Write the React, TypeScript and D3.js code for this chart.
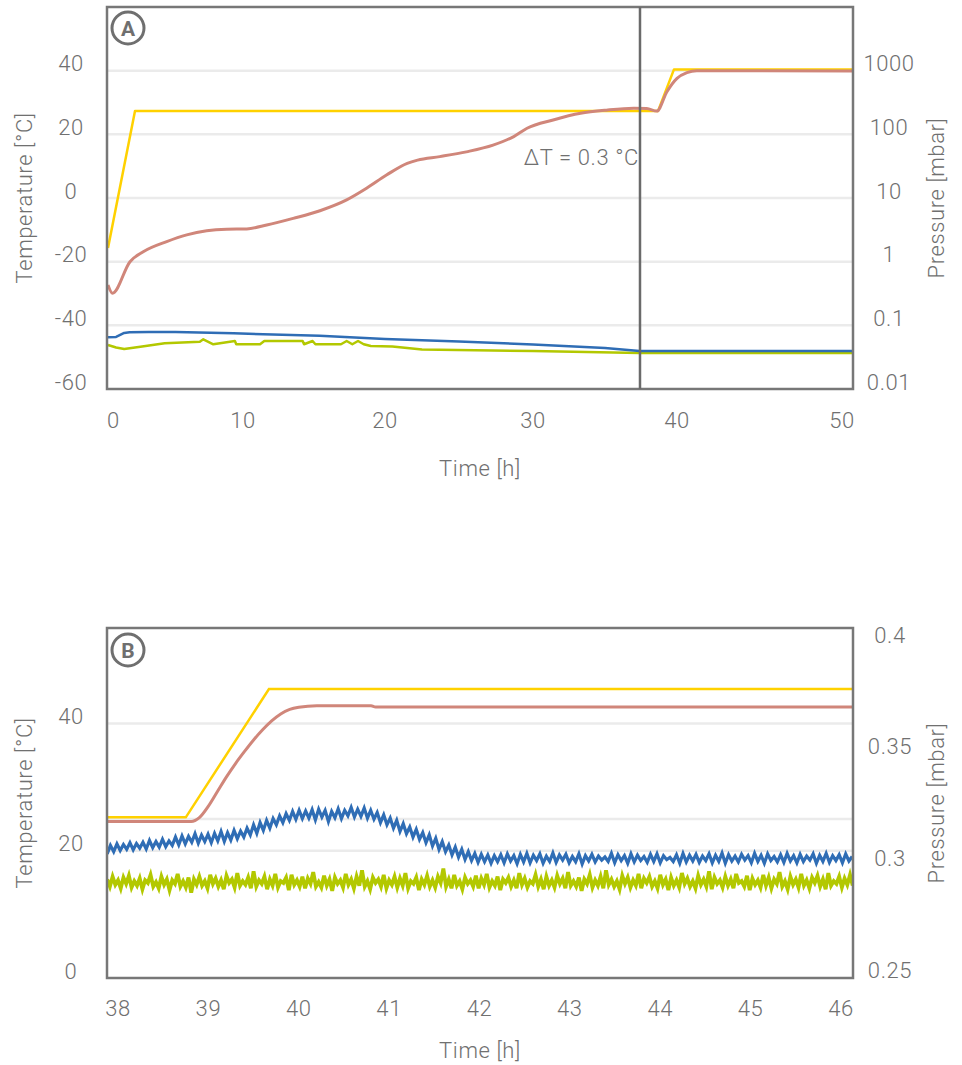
import React from 'react';
import * as d3 from 'd3';

// ---------- Panel A data ----------
const A_X_TICKS = [0, 10, 20, 30, 40, 50];
const A_TEMP_TICKS = [-60, -40, -20, 0, 20, 40];
const A_TEMP_GRID = [-40, -20, 0, 20, 40];
const A_PRESS_TICKS = [0.01, 0.1, 1, 10, 100, 1000];
const A_EVENT_TIME = 37.43;
const A_ANNOT = 'ΔT = 0.3 °C';

// [time h, temperature °C]
const aShelf: [number, number][] = [
  [0, -15.7], [2.0, 27.3], [38.68, 27.3], [39.79, 40.4], [50.67, 40.4],
];
const aProduct: [number, number][] = [
  [0, -27.3], [0.33, -29.9], [1.63, -20.0], [2.61, -16.9], [4.35, -13.7], [5.83, -11.6],
  [7.31, -10.3], [8.79, -9.8], [10.26, -9.7], [11.67, -8.5], [13.54, -6.4], [15.42, -4.0],
  [17.3, -0.6], [18.7, 3.05], [20.1, 7.2], [21.5, 10.9], [22.2, 11.9], [23.7, 13.0],
  [25.5, 14.5], [27.3, 16.6], [28.7, 19.3], [29.6, 21.9], [31.4, 24.5], [33.3, 26.6],
  [35.1, 27.6], [37.0, 28.2], [37.9, 28.1], [38.6, 27.3], [39.3, 33.4], [40.0, 37.6],
  [40.6, 39.4], [41.2, 40.0], [50.67, 39.9],
];
// [time h, pressure mbar]
const aPirani: [number, number][] = [
  [0, 0.0648], [0.6, 0.0656], [1.2, 0.0758], [1.6, 0.0777], [3, 0.0785], [5, 0.0785],
  [9.3, 0.0749], [15.4, 0.0687], [20, 0.061], [25, 0.0557], [30, 0.05], [35, 0.0441],
  [37.4, 0.0395], [50.67, 0.0395],
];
const aCapacitance: [number, number][] = [
  [0, 0.0491], [0.6, 0.0449], [1.2, 0.0425], [2.4, 0.0462], [4.2, 0.0522], [6.8, 0.0553],
  [7.06, 0.0604], [7.8, 0.0504], [9.4, 0.0567], [9.5, 0.0504], [11.2, 0.0504], [11.5, 0.0567],
  [14.2, 0.0567], [14.3, 0.0504], [14.9, 0.0567], [15.1, 0.0504], [16.9, 0.0504], [17.3, 0.0567],
  [17.7, 0.0504], [18.1, 0.0567], [18.5, 0.0504], [19.0, 0.0473], [20.5, 0.0465], [22.5, 0.0417],
  [30, 0.0395], [37.4, 0.0368], [50.67, 0.0368],
];

// ---------- Panel B data ----------
const B_X_TICKS = [38, 39, 40, 41, 42, 43, 44, 45, 46];
const B_TEMP_TICKS = [0, 20, 40];
const B_TEMP_GRID = [20, 25, 40];
const B_PRESS_TICKS = [0.25, 0.3, 0.35, 0.4];
const B_START = 37.88;
const B_PIRANI_STEP = 0.036;
const B_CAP_STEP = 0.03;

const bShelf: [number, number][] = [
  [37.878, 25.25], [38.75, 25.25], [39.67, 45.4], [46.133, 45.4],
];
const bProduct: [number, number][] = [
  [37.878, 24.6], [38.81, 24.6], [38.9, 25.2], [39.0, 27.0], [39.1, 29.3], [39.2, 31.6],
  [39.3, 33.7], [39.4, 35.6], [39.5, 37.4], [39.6, 39.0], [39.7, 40.4], [39.8, 41.5],
  [39.9, 42.2], [40.0, 42.55], [40.2, 42.8], [40.8, 42.8], [40.85, 42.6], [46.133, 42.6],
];
// pressure in 1e-4 mbar
const bPirani = [
  3020, 3058, 3030, 3065, 3035, 3062, 3040, 3070, 3038, 3066,
  3045, 3072, 3042, 3080, 3048, 3075, 3050, 3085, 3052, 3078,
  3058, 3095, 3060, 3100, 3065, 3098, 3072, 3110, 3068, 3104,
  3075, 3108, 3070, 3112, 3078, 3120, 3076, 3115, 3082, 3125,
  3088, 3122, 3095, 3135, 3105, 3150, 3112, 3160, 3125, 3170,
  3135, 3178, 3150, 3190, 3160, 3200, 3170, 3210, 3175, 3215,
  3178, 3212, 3180, 3218, 3172, 3220, 3185, 3215, 3165, 3210,
  3182, 3222, 3178, 3215, 3190, 3228, 3185, 3220, 3188, 3225,
  3180, 3215, 3175, 3205, 3160, 3195, 3150, 3180, 3135, 3170,
  3120, 3155, 3110, 3140, 3095, 3130, 3085, 3115, 3070, 3105,
  3055, 3090, 3040, 3075, 3030, 3060, 3015, 3050, 3005, 3040,
  2995, 3030, 2990, 3022, 2982, 3018, 2985, 3015, 2978, 3012,
  2985, 3016, 2980, 3020, 2988, 3012, 2976, 3018, 2984, 3022,
  2980, 3014, 2990, 3020, 2978, 3010, 2986, 3024, 2982, 3015,
  2992, 3018, 2980, 3008, 2985, 3020, 2975, 3012, 2988, 3018,
  2984, 3010, 2992, 3006, 2986, 3022, 2980, 3016, 2990, 3012,
  2978, 3020, 2984, 3014, 2990, 3008, 2982, 3018, 2986, 3020,
  2980, 3012, 2994, 3004, 2986, 3016, 2978, 3022, 2984, 3014,
  2988, 3018, 2982, 3010, 2990, 3020, 2980, 3014, 2986, 3024,
  2978, 3016, 2988, 3010, 2984, 3018, 2992, 3012, 2980, 3022,
  2986, 3014, 2978, 3020, 2990, 3008, 2984, 3016, 2982, 3022,
  2988, 3012, 2980, 3018, 2986, 3010, 2992, 3020, 2978, 3014,
  2986, 3022, 2982, 3012, 2990, 3016, 2980, 3020, 2988, 3008,
];
const bCapacitance = [
  2906, 2874, 2918, 2882, 2902, 2866, 2914, 2886, 2922, 2870, 2898, 2878,
  2910, 2862, 2902, 2890, 2926, 2874, 2894, 2866, 2918, 2882, 2906, 2858,
  2902, 2886, 2930, 2874, 2898, 2870, 2914, 2846, 2906, 2882, 2918, 2878,
  2898, 2866, 2926, 2886, 2910, 2874, 2902, 2862, 2922, 2890, 2906, 2870,
  2934, 2878, 2898, 2882, 2914, 2866, 2942, 2874, 2902, 2886, 2918, 2862,
  2906, 2878, 2930, 2870, 2898, 2890, 2914, 2858, 2926, 2882, 2902, 2874,
  2918, 2866, 2910, 2886, 2938, 2874, 2894, 2870, 2922, 2878, 2906, 2854,
  2914, 2886, 2902, 2870, 2930, 2882, 2906, 2866, 2918, 2878, 2946, 2874,
  2898, 2862, 2914, 2890, 2906, 2874, 2926, 2866, 2902, 2882, 2918, 2870,
  2910, 2878, 2934, 2866, 2898, 2886, 2914, 2858, 2906, 2882, 2922, 2874,
  2902, 2870, 2918, 2890, 2954, 2874, 2906, 2866, 2926, 2878, 2898, 2862,
  2914, 2886, 2902, 2874, 2922, 2866, 2910, 2882, 2930, 2870, 2898, 2878,
  2918, 2858, 2906, 2890, 2914, 2874, 2902, 2866, 2934, 2882, 2910, 2870,
  2898, 2886, 2926, 2874, 2906, 2862, 2918, 2878, 2902, 2870, 2922, 2886,
  2910, 2866, 2938, 2878, 2898, 2874, 2914, 2854, 2906, 2886, 2926, 2870,
  2902, 2878, 2918, 2866, 2946, 2882, 2906, 2874, 2898, 2862, 2922, 2886,
  2914, 2870, 2902, 2878, 2930, 2866, 2910, 2890, 2918, 2874, 2898, 2866,
  2926, 2882, 2906, 2858, 2914, 2878, 2902, 2870, 2934, 2886, 2910, 2874,
  2898, 2866, 2922, 2882, 2906, 2874, 2942, 2862, 2914, 2886, 2902, 2870,
  2918, 2878, 2906, 2866, 2930, 2890, 2898, 2874, 2922, 2858, 2910, 2882,
  2902, 2870, 2926, 2878, 2914, 2866, 2906, 2886, 2938, 2874, 2898, 2862,
  2918, 2882, 2906, 2870, 2930, 2878, 2902, 2866, 2914, 2890, 2922, 2874,
  2906, 2862, 2934, 2878, 2898, 2886, 2918, 2870, 2910, 2882, 2926, 2878,
];

const C = {
  yellow: '#ffd100',
  red: '#d0867a',
  blue: '#2f6db5',
  green: '#b3c800',
  frame: '#777777',
  grid: '#ebebeb',
  text: '#707070',
};
const FONT = "Roboto, 'Liberation Sans', Arial, sans-serif";

export default function App() {
  const A = { l: 107, t: 7, r: 853, b: 389 };
  const B = { l: 107, t: 628, r: 853, b: 978 };

  const xA = d3.scaleLinear().domain([0, 10, 20, 30, 40, 50, 50.67]).range([108, 243, 385, 533, 677, 842, A.r]);
  const yTA = d3.scaleLinear().domain([-60, 60]).range([A.b, A.t]);
  const yPA = d3.scaleLog().domain([0.01, 10000]).range([A.b, A.t]);

  const xB = d3.scaleLinear().domain([37.878, 46.133]).range([B.l, B.r]);
  const yTB = d3.scaleLinear().domain([0, 55]).range([B.b, B.t]);
  const yPB = d3.scaleLinear().domain([0.25, 0.4]).range([970, 635]);

  const lineTA = d3.line<[number, number]>().x(d => xA(d[0])).y(d => yTA(d[1]));
  const lineTAsmooth = d3.line<[number, number]>().x(d => xA(d[0])).y(d => yTA(d[1])).curve(d3.curveMonotoneX);
  const linePA = d3.line<[number, number]>().x(d => xA(d[0])).y(d => yPA(d[1]));
  const lineTB = d3.line<[number, number]>().x(d => xB(d[0])).y(d => yTB(d[1]));
  const lineTBsmooth = d3.line<[number, number]>().x(d => xB(d[0])).y(d => yTB(d[1])).curve(d3.curveMonotoneX);
  const linePB = d3.line<[number, number]>().x(d => xB(d[0])).y(d => yPB(d[1]));

  const bPiraniPts: [number, number][] = bPirani.map((v, i) => [B_START + i * B_PIRANI_STEP, v / 10000]);
  const bCapPts: [number, number][] = bCapacitance.map((v, i) => [B_START + i * B_CAP_STEP, v / 10000]);

  const fs = 22;
  const textStyle: React.CSSProperties = { fontFamily: FONT, fontWeight: 300, fill: C.text, fontSize: fs, letterSpacing: 0.6 };

  const badge = (cx: number, cy: number, label: string) => (
    <g>
      <circle cx={cx} cy={cy} r={16} fill="white" stroke="#6f6f6f" strokeWidth={3} />
      <text x={cx} y={cy + 1} textAnchor="middle" dominantBaseline="central"
        style={{ fontFamily: FONT, fontWeight: 700, fill: '#6f6f6f', fontSize: 21 }}>{label}</text>
    </g>
  );

  return (
    <div style={{ position: 'absolute', left: 0, top: 0 }}>
      <svg width={962} height={1065} viewBox="0 0 962 1065" style={{ display: 'block', background: 'white' }}>
        <defs>
          <clipPath id="clipA"><rect x={A.l} y={A.t} width={A.r - A.l} height={A.b - A.t} /></clipPath>
          <clipPath id="clipB"><rect x={B.l} y={B.t} width={B.r - B.l} height={B.b - B.t} /></clipPath>
        </defs>

        {/* ---------------- Panel A ---------------- */}
        {A_TEMP_GRID.map(v => (
          <line key={'ga' + v} x1={A.l} x2={A.r} y1={yTA(v)} y2={yTA(v)} stroke={C.grid} strokeWidth={2.5} />
        ))}
        <g clipPath="url(#clipA)" fill="none" strokeLinejoin="round">
          <path d={linePA(aCapacitance) || ''} stroke={C.green} strokeWidth={2.5} />
          <path d={linePA(aPirani) || ''} stroke={C.blue} strokeWidth={2.5} />
          <path d={lineTA(aShelf) || ''} stroke={C.yellow} strokeWidth={2.5} />
          <path d={lineTAsmooth(aProduct) || ''} stroke={C.red} strokeWidth={3} />
        </g>
        <rect x={A.l} y={A.t} width={A.r - A.l} height={A.b - A.t} fill="none" stroke={C.frame} strokeWidth={2.5} />
        <line x1={xA(A_EVENT_TIME)} x2={xA(A_EVENT_TIME)} y1={A.t} y2={A.b} stroke="#6a6a6a" strokeWidth={2.5} />
        <text x={xA(A_EVENT_TIME) - 1} y={yTA(12.6)} textAnchor="end" dominantBaseline="central"
          style={textStyle}>{A_ANNOT}</text>
        {badge(128, 28, 'A')}

        {A_TEMP_TICKS.map(v => (
          <text key={'ta' + v} x={71} y={yTA(v) - 7} textAnchor="middle" dominantBaseline="central"
            style={textStyle}>{v}</text>
        ))}
        {A_PRESS_TICKS.map(v => (
          <text key={'pa' + v} x={889} y={yPA(v) - 7} textAnchor="middle" dominantBaseline="central"
            style={textStyle}>{String(v)}</text>
        ))}
        {A_X_TICKS.map((v, i) => (
          <text key={'xa' + v} x={i === 0 ? A.l : xA(v)} y={420} textAnchor={i === 0 ? 'start' : 'middle'}
            dominantBaseline="central" style={textStyle}>{v}</text>
        ))}
        <text x={(A.l + A.r) / 2} y={468} textAnchor="middle" dominantBaseline="central"
          style={textStyle}>Time [h]</text>
        <text transform={`translate(24, ${(A.t + A.b) / 2}) rotate(-90)`} textAnchor="middle" dominantBaseline="central"
          style={textStyle}>Temperature [°C]</text>
        <text transform={`translate(936, ${(A.t + A.b) / 2}) rotate(-90)`} textAnchor="middle" dominantBaseline="central"
          style={textStyle}>Pressure [mbar]</text>

        {/* ---------------- Panel B ---------------- */}
        {B_TEMP_GRID.map(v => (
          <line key={'gb' + v} x1={B.l} x2={B.r} y1={yTB(v)} y2={yTB(v)} stroke={C.grid} strokeWidth={2.5} />
        ))}
        <g clipPath="url(#clipB)" fill="none" strokeLinejoin="miter">
          <path d={lineTB(bShelf) || ''} stroke={C.yellow} strokeWidth={2.5} />
          <path d={lineTBsmooth(bProduct) || ''} stroke={C.red} strokeWidth={3} />
          <path d={linePB(bPiraniPts) || ''} stroke={C.blue} strokeWidth={3.2} />
          <path d={linePB(bCapPts) || ''} stroke={C.green} strokeWidth={3.8} />
        </g>
        <rect x={B.l} y={B.t} width={B.r - B.l} height={B.b - B.t} fill="none" stroke={C.frame} strokeWidth={2.5} />
        {badge(128, 650, 'B')}

        {B_TEMP_TICKS.map(v => (
          <text key={'tb' + v} x={71} y={yTB(v) - 7} textAnchor="middle" dominantBaseline="central"
            style={textStyle}>{v}</text>
        ))}
        {B_PRESS_TICKS.map(v => (
          <text key={'pb' + v} x={890} y={yPB(v)} textAnchor="middle" dominantBaseline="central"
            style={textStyle}>{v}</text>
        ))}
        {B_X_TICKS.map(v => (
          <text key={'xb' + v} x={xB(v)} y={1008} textAnchor="middle" dominantBaseline="central"
            style={textStyle}>{v}</text>
        ))}
        <text x={(B.l + B.r) / 2} y={1050} textAnchor="middle" dominantBaseline="central"
          style={textStyle}>Time [h]</text>
        <text transform={`translate(24, ${(B.t + B.b) / 2}) rotate(-90)`} textAnchor="middle" dominantBaseline="central"
          style={textStyle}>Temperature [°C]</text>
        <text transform={`translate(936, ${(B.t + B.b) / 2}) rotate(-90)`} textAnchor="middle" dominantBaseline="central"
          style={textStyle}>Pressure [mbar]</text>
      </svg>
    </div>
  );
}
